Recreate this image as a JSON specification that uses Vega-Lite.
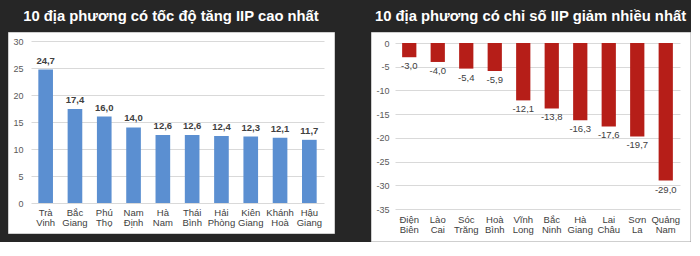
{
  "$schema": "https://vega.github.io/schema/vega-lite/v6.json",
  "background": "#262626",
  "padding": {"left": 7, "top": 8, "right": 0, "bottom": 0},
  "config": {
    "locale": {"number": {"decimal": ",", "thousands": ".", "grouping": [3], "currency": ["", ""], "minus": "-"}},
    "font": "Liberation Sans",
    "view": {"fill": "white", "stroke": "#cfcfcf", "strokeWidth": 1},
    "title": {"color": "white", "fontSize": 14.8, "fontWeight": "bold", "font": "Liberation Sans", "anchor": "middle", "frame": "group", "offset": 8},
    "axis": {"domain": false, "ticks": false, "tickSize": 0, "labelFont": "Liberation Sans", "labelFontSize": 9, "labelColor": "#595959", "gridColor": "#d9d9d9", "gridWidth": 1, "title": null}
  },
  "datasets": {
    "top": [
      {"tinh": "Trà Vinh", "iip": 24.7},
      {"tinh": "Bắc Giang", "iip": 17.4},
      {"tinh": "Phú Thọ", "iip": 16.0},
      {"tinh": "Nam Định", "iip": 14.0},
      {"tinh": "Hà Nam", "iip": 12.6},
      {"tinh": "Thái Bình", "iip": 12.6},
      {"tinh": "Hải Phòng", "iip": 12.4},
      {"tinh": "Kiên Giang", "iip": 12.3},
      {"tinh": "Khánh Hoà", "iip": 12.1},
      {"tinh": "Hậu Giang", "iip": 11.7}
    ],
    "bottom": [
      {"tinh": "Điện Biên", "iip": -3.0},
      {"tinh": "Lào Cai", "iip": -4.0},
      {"tinh": "Sóc Trăng", "iip": -5.4},
      {"tinh": "Hoà Bình", "iip": -5.9},
      {"tinh": "Vĩnh Long", "iip": -12.1},
      {"tinh": "Bắc Ninh", "iip": -13.8},
      {"tinh": "Hà Giang", "iip": -16.3},
      {"tinh": "Lai Châu", "iip": -17.6},
      {"tinh": "Sơn La", "iip": -19.7},
      {"tinh": "Quảng Nam", "iip": -29.0}
    ]
  },
  "spacing": 35,
  "hconcat": [
    {
      "title": "10 địa phương có tốc độ tăng IIP cao nhất",
      "width": 326,
      "height": 201,
      "data": {"name": "top"},
      "encoding": {
        "x": {
          "field": "tinh", "type": "nominal", "sort": null,
          "scale": {"range": [23, 316], "paddingInner": 0.5, "paddingOuter": 0.25},
          "axis": {"orient": "bottom", "offset": -30, "labelPadding": 4, "labelAngle": 0, "labelColor": "#404040", "labelFontSize": 9.5, "labelLineHeight": 10, "labelExpr": "split(datum.label, ' ')", "grid": false}
        },
        "y": {
          "field": "iip", "type": "quantitative",
          "scale": {"domain": [0, 30], "range": [171, 9], "nice": false},
          "axis": {"orient": "left", "offset": -15, "labelPadding": 0, "values": [0, 5, 10, 15, 20, 25, 30], "grid": true}
        }
      },
      "layer": [
        {"mark": {"type": "bar", "color": "#5B8FD1"}},
        {
          "mark": {"type": "text", "baseline": "bottom", "dy": -4, "fontSize": 9.5, "fontWeight": "bold", "color": "#404040"},
          "encoding": {"text": {"field": "iip", "type": "quantitative", "format": ".1f"}}
        }
      ]
    },
    {
      "title": "10 địa phương có chỉ số IIP giảm nhiều nhất",
      "width": 319,
      "height": 209,
      "data": {"name": "bottom"},
      "encoding": {
        "x": {
          "field": "tinh", "type": "nominal", "sort": null,
          "scale": {"range": [24, 309], "paddingInner": 0.5, "paddingOuter": 0.25},
          "axis": {"orient": "bottom", "offset": -32, "labelPadding": 5, "labelAngle": 0, "labelColor": "#404040", "labelFontSize": 9.5, "labelLineHeight": 10, "labelExpr": "split(datum.label, ' ')", "grid": false}
        },
        "y": {
          "field": "iip", "type": "quantitative",
          "scale": {"domain": [-35, 0], "range": [177, 11], "nice": false},
          "axis": {"orient": "left", "offset": -18, "labelPadding": 0, "values": [-35, -30, -25, -20, -15, -10, -5, 0], "grid": true}
        }
      },
      "layer": [
        {"mark": {"type": "bar", "color": "#B61E18"}},
        {
          "mark": {"type": "text", "baseline": "top", "dy": 4, "fontSize": 9.5, "color": "#404040"},
          "encoding": {"text": {"field": "iip", "type": "quantitative", "format": ".1f"}}
        }
      ]
    }
  ]
}
